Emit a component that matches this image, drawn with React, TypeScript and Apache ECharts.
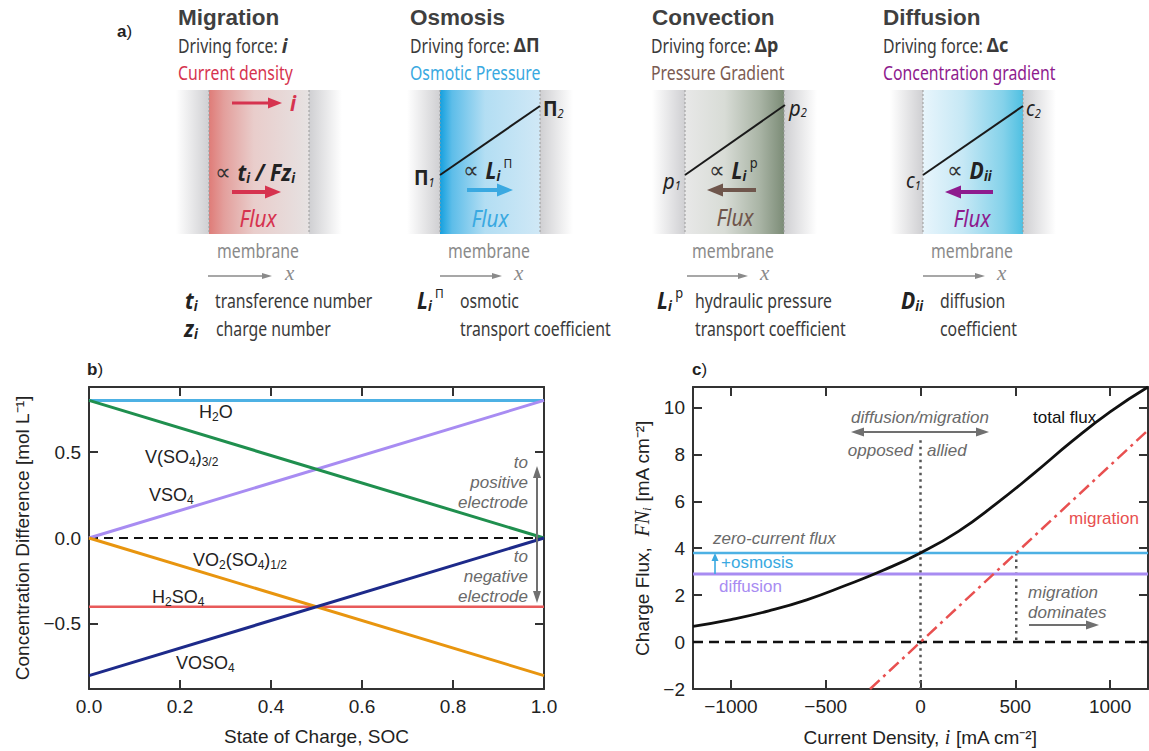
import React, { useEffect, useRef } from "react";
import * as echarts from "echarts";

// ---------- panel b: concentration difference vs state of charge ----------
const socRange = [0, 1];
const socTicks = [0, 0.2, 0.4, 0.6, 0.8, 1.0];
const concTicks = [-0.5, 0, 0.5];
const concRange = [-0.878, 0.878];
const h2oConc = [0.8, 0.8];
const vSo4_32Conc = [0.8, 0.0];
const vSo4Conc = [0.0, 0.8];
const vo2So4Conc = [0.0, -0.8];
const h2so4Conc = [-0.4, -0.4];
const voSo4Conc = [-0.8, 0.0];
const zeroConc = [0, 0];

// ---------- panel c: charge flux vs current density ----------
const currentRange = [-1200, 1200];
const currentTicks = [-1000, -500, 0, 500, 1000];
const fluxRange = [-2, 10.87];
const fluxTicks = [-2, 0, 2, 4, 6, 8, 10];
const currentSamples = [-1200, -1000, -800, -600, -400, -200, 0, 200, 400, 600, 800, 1000, 1200];
const totalFlux = [0.67, 0.96, 1.33, 1.8, 2.4, 3.05, 3.8, 4.72, 5.9, 7.2, 8.56, 9.81, 10.87];
const migrationCurrent = [-266, 1200];
const migrationFlux = [-2.0, 9.03];
const diffusionFlux = 2.9;
const zeroCurrentFlux = 3.8;
const crossoverCurrent = 505;
const alliedMarkerTop = 8.6;

const ARIAL = "'Liberation Sans', Arial, Helvetica, sans-serif";
const SANS = "'Noto Sans', 'Open Sans', 'DejaVu Sans', sans-serif";
const SERIF = "'Liberation Serif', 'DejaVu Serif', serif";
const SYMBOL = "'DejaVu Sans', sans-serif";
const AXIS = "#333333";
const INK = "#222222";
const NOTE = "#6a6a6a";

const C_H2O = "#4db1e4";
const C_V32 = "#1f8f4e";
const C_VSO4 = "#a88cf2";
const C_VO2 = "#e8950f";
const C_H2SO4 = "#e85a5a";
const C_VOSO4 = "#1d2a8a";
const C_MIG = "#e85050";

const RED_A = "#d6334f";
const BLUE_A = "#3aa9e1";
const BROWN_A = "#6f564c";
const PURPLE_A = "#8e1b8e";
const GREY_A = "#8a8a8a";

let ctx2d: CanvasRenderingContext2D | null = null;
function measure(text: string, size: number, bold: boolean, italic: boolean, family: string) {
  if (!ctx2d) ctx2d = document.createElement("canvas").getContext("2d");
  if (!ctx2d) return text.length * size * 0.55;
  ctx2d.font = `${italic ? "italic " : ""}${bold ? "bold " : ""}${size}px ${family}`;
  return ctx2d.measureText(text).width;
}

type Seg = { t: string; size?: number; b?: boolean; i?: boolean; f?: string; c?: string; dy?: number; gap?: number; sx?: number };
type Base = { size: number; f: string; c: string; sx: number; align?: "left" | "center" | "right" };

function run(x: number, y: number, segs: Seg[], d: Base) {
  const items = segs.map((s) => {
    const size = s.size ?? d.size;
    const f = s.f ?? d.f;
    const sx = s.sx ?? d.sx;
    const w = measure(s.t, size, !!s.b, !!s.i, f) * sx;
    return { s, size, f, sx, w };
  });
  const total = items.reduce((a, it) => a + it.w + (it.s.gap ?? 0), 0);
  let cx = d.align === "center" ? x - total / 2 : d.align === "right" ? x - total : x;
  const out: any[] = [];
  for (const it of items) {
    cx += it.s.gap ?? 0;
    out.push({
      type: "text",
      x: cx,
      y: y + (it.s.dy ?? 0),
      scaleX: it.sx,
      silent: true,
      z: 50,
      style: {
        text: it.s.t,
        fontSize: it.size,
        fontFamily: it.f,
        fontWeight: it.s.b ? "bold" : "normal",
        fontStyle: it.s.i ? "italic" : "normal",
        fill: it.s.c ?? d.c,
        align: "left",
        verticalAlign: "middle",
      },
    });
    cx += it.w;
  }
  return out;
}

function arrow(x1: number, y1: number, x2: number, y2: number, color: string, width: number, headL: number, headW: number) {
  const dx = x2 - x1;
  const dy = y2 - y1;
  const len = Math.hypot(dx, dy);
  const ux = dx / len;
  const uy = dy / len;
  const bx = x2 - ux * headL;
  const by = y2 - uy * headL;
  const px = -uy * (headW / 2);
  const py = ux * (headW / 2);
  return [
    { type: "line", silent: true, z: 49, shape: { x1, y1, x2: bx + ux * 1, y2: by + uy * 1 }, style: { stroke: color, lineWidth: width } },
    { type: "polygon", silent: true, z: 49, shape: { points: [[x2, y2], [bx + px, by + py], [bx - px, by - py]] }, style: { fill: color } },
  ];
}

function doubleArrow(x1: number, y1: number, x2: number, y2: number, color: string, width: number, headL: number, headW: number) {
  const mx = (x1 + x2) / 2;
  const my = (y1 + y2) / 2;
  return [...arrow(mx, my, x2, y2, color, width, headL, headW), ...arrow(mx, my, x1, y1, color, width, headL, headW)];
}

const grad = (stops: [number, string][]) =>
  new echarts.graphic.LinearGradient(0, 0, 1, 0, stops.map(([offset, color]) => ({ offset, color })));

function membraneBox(mL: number, mR: number, stops: [number, string][]) {
  const top = 90;
  const h = 144;
  const side = 33;
  const grey = "#cfcfd2";
  return [
    { type: "rect", silent: true, z: 10, shape: { x: mL - side, y: top, width: side, height: h }, style: { fill: grad([[0, "#ffffff"], [1, grey]]) } },
    { type: "rect", silent: true, z: 10, shape: { x: mR, y: top, width: side, height: h }, style: { fill: grad([[0, grey], [1, "#ffffff"]]) } },
    { type: "rect", silent: true, z: 11, shape: { x: mL, y: top, width: mR - mL, height: h }, style: { fill: grad(stops) } },
    { type: "line", silent: true, z: 12, shape: { x1: mL, y1: top, x2: mL, y2: top + h }, style: { stroke: "#9a9a9a", lineWidth: 1, lineDash: [2, 2] } },
    { type: "line", silent: true, z: 12, shape: { x1: mR, y1: top, x2: mR, y2: top + h }, style: { stroke: "#9a9a9a", lineWidth: 1, lineDash: [2, 2] } },
  ];
}

function gradientLine(x1: number, y1: number, x2: number, y2: number) {
  return { type: "line", silent: true, z: 30, shape: { x1, y1, x2, y2 }, style: { stroke: "#1a1a1a", lineWidth: 2 } };
}

function buildGraphics() {
  const body: Base = { size: 20, f: SANS, c: "#3a3a3a", sx: 0.79 };
  const math: Base = { size: 23, f: SANS, c: INK, sx: 0.92 };
  const head: Base = { size: 22.5, f: ARIAL, c: "#3f3f3f", sx: 1 };
  const lab: Base = { size: 17, f: ARIAL, c: INK, sx: 1 };
  const chem: Base = { size: 18, f: ARIAL, c: INK, sx: 1 };
  const note: Base = { size: 17, f: ARIAL, c: NOTE, sx: 1 };
  const flux: Base = { size: 23, f: SANS, c: INK, sx: 0.9, align: "center" };
  const prop: Seg = { t: "∝ ", size: 23, f: SYMBOL, sx: 0.95, c: "#333333" };
  const sub = (t: string, extra: Partial<Seg> = {}): Seg => ({ t, size: 14, dy: 6, ...extra });
  const sup = (t: string, extra: Partial<Seg> = {}): Seg => ({ t, size: 14, dy: -7, ...extra });
  const el: any[] = [];

  // panel letters
  el.push(...run(117, 31, [{ t: "a", b: true }, { t: ")" }], lab));
  el.push(...run(87, 369, [{ t: "b", b: true }, { t: ")" }], lab));
  el.push(...run(692, 369, [{ t: "c", b: true }, { t: ")" }], lab));

  // --- Migration ---
  el.push(...run(178, 17, [{ t: "Migration", b: true }], head));
  el.push(...run(178, 45, [{ t: "Driving force: " }, { t: "i", b: true, i: true, sx: 0.95 }], body));
  el.push(...run(178, 72, [{ t: "Current density", c: RED_A }], body));
  el.push(...membraneBox(209, 309, [[0, "#df7c78"], [0.15, "#e39f9c"], [0.45, "#e9cdcb"], [1, "#e6e2e2"]]));
  el.push(...arrow(232, 103, 282, 103, RED_A, 3, 14, 11));
  el.push(...run(290, 102, [{ t: "i", b: true, i: true, c: RED_A, size: 22 }], math));
  el.push(...run(215, 172, [prop, { t: "t", b: true, i: true }, sub("i", { b: true, i: true }), { t: " / ", b: true, i: true }, { t: "Fz", b: true, i: true }, sub("i", { b: true, i: true })], math));
  el.push(...arrow(232, 192, 281, 192, RED_A, 4, 16, 13));
  el.push(...run(258, 218, [{ t: "Flux", i: true, c: RED_A }], flux));
  el.push(...run(258, 250, [{ t: "membrane", c: GREY_A }], { ...body, align: "center" }));
  el.push(...arrow(208, 276, 272, 276, GREY_A, 1.3, 10, 6));
  el.push(...run(285, 273, [{ t: "x", i: true, f: SERIF, c: GREY_A, size: 21 }], { ...body, sx: 1 }));
  el.push(...run(185, 300, [{ t: "t", b: true, i: true }, sub("i", { b: true, i: true })], math));
  el.push(...run(215, 300, [{ t: "transference number" }], body));
  el.push(...run(184, 328, [{ t: "z", b: true, i: true }, sub("i", { b: true, i: true })], math));
  el.push(...run(216, 328, [{ t: "charge number" }], body));

  // --- Osmosis ---
  el.push(...run(410, 17, [{ t: "Osmosis", b: true }], head));
  el.push(...run(410, 45, [{ t: "Driving force: " }, { t: "ΔΠ", b: true, sx: 0.9 }], body));
  el.push(...run(410, 72, [{ t: "Osmotic Pressure", c: BLUE_A }], body));
  el.push(...membraneBox(440, 540, [[0, "#14a0df"], [0.12, "#5dbde9"], [0.45, "#b3def3"], [1, "#d0e8f6"]]));
  el.push(gradientLine(440, 175, 540, 106));
  el.push(...run(414, 177, [{ t: "Π", b: true, size: 21 }, sub("1", { i: true, size: 12, dy: 5 })], math));
  el.push(...run(543, 108, [{ t: "Π", b: true, size: 21 }, sub("2", { i: true, size: 12, dy: 5 })], math));
  el.push(...run(463, 170, [prop, { t: "L", b: true, i: true }, sub("i", { b: true, i: true }), sup(" Π", { size: 13 })], math));
  el.push(...arrow(467, 190, 513, 190, BLUE_A, 4, 16, 13));
  el.push(...run(490, 218, [{ t: "Flux", i: true, c: BLUE_A }], flux));
  el.push(...run(489, 250, [{ t: "membrane", c: GREY_A }], { ...body, align: "center" }));
  el.push(...arrow(440, 276, 502, 276, GREY_A, 1.3, 10, 6));
  el.push(...run(514, 273, [{ t: "x", i: true, f: SERIF, c: GREY_A, size: 21 }], { ...body, sx: 1 }));
  el.push(...run(417, 300, [{ t: "L", b: true, i: true }, sub("i", { b: true, i: true }), sup(" Π", { size: 13 })], math));
  el.push(...run(460, 300, [{ t: "osmotic" }], body));
  el.push(...run(460, 328, [{ t: "transport coefficient" }], body));

  // --- Convection ---
  el.push(...run(652, 17, [{ t: "Convection", b: true }], head));
  el.push(...run(651, 45, [{ t: "Driving force: " }, { t: "Δp", b: true, sx: 0.9 }], body));
  el.push(...run(651, 72, [{ t: "Pressure Gradient", c: "#7b5b52" }], body));
  el.push(...membraneBox(685, 784, [[0, "#e8e8e8"], [0.4, "#d8dcd6"], [0.75, "#aab5a6"], [1, "#7c8c77"]]));
  el.push(gradientLine(685, 175, 785, 105));
  el.push(...run(663, 180, [{ t: "p", i: true, size: 22 }, sub("1", { i: true, size: 12, dy: 5 })], math));
  el.push(...run(789, 107, [{ t: "p", i: true, size: 22 }, sub("2", { i: true, size: 12, dy: 5 })], math));
  el.push(...run(709, 170, [prop, { t: "L", b: true, i: true }, sub("i", { b: true, i: true }), sup(" p", { size: 14 })], math));
  el.push(...arrow(756, 190, 707, 190, BROWN_A, 4, 16, 13));
  el.push(...run(735, 217, [{ t: "Flux", i: true, c: BROWN_A }], flux));
  el.push(...run(733, 250, [{ t: "membrane", c: GREY_A }], { ...body, align: "center" }));
  el.push(...arrow(687, 276, 748, 276, GREY_A, 1.3, 10, 6));
  el.push(...run(760, 273, [{ t: "x", i: true, f: SERIF, c: GREY_A, size: 21 }], { ...body, sx: 1 }));
  el.push(...run(657, 300, [{ t: "L", b: true, i: true }, sub("i", { b: true, i: true }), sup(" p", { size: 14 })], math));
  el.push(...run(695, 300, [{ t: "hydraulic pressure" }], body));
  el.push(...run(695, 328, [{ t: "transport coefficient" }], body));

  // --- Diffusion ---
  el.push(...run(883, 17, [{ t: "Diffusion", b: true }], head));
  el.push(...run(883, 45, [{ t: "Driving force: " }, { t: "Δc", b: true, sx: 0.9 }], body));
  el.push(...run(883, 72, [{ t: "Concentration gradient", c: PURPLE_A }], body));
  el.push(...membraneBox(923, 1023, [[0, "#e8f5fc"], [0.4, "#c6e8f5"], [0.8, "#85d2ea"], [1, "#4fc0e2"]]));
  el.push(gradientLine(923, 175, 1023, 106));
  el.push(...run(906, 180, [{ t: "c", i: true, size: 21 }, sub("1", { i: true, size: 12, dy: 5 })], math));
  el.push(...run(1026, 108, [{ t: "c", i: true, size: 21 }, sub("2", { i: true, size: 12, dy: 5 })], math));
  el.push(...run(947, 170, [prop, { t: "D", b: true, i: true }, sub("ii", { b: true, i: true })], math));
  el.push(...arrow(993, 192, 945, 192, PURPLE_A, 4, 16, 13));
  el.push(...run(972, 218, [{ t: "Flux", i: true, c: PURPLE_A }], flux));
  el.push(...run(972, 250, [{ t: "membrane", c: GREY_A }], { ...body, align: "center" }));
  el.push(...arrow(923, 276, 985, 276, GREY_A, 1.3, 10, 6));
  el.push(...run(997, 273, [{ t: "x", i: true, f: SERIF, c: GREY_A, size: 21 }], { ...body, sx: 1 }));
  el.push(...run(901, 300, [{ t: "D", b: true, i: true }, sub("ii", { b: true, i: true })], math));
  el.push(...run(940, 300, [{ t: "diffusion" }], body));
  el.push(...run(940, 328, [{ t: "coefficient" }], body));

  // --- panel b species labels ---
  const cs = (t: string): Seg => ({ t, size: 12, dy: 5 });
  el.push(...run(199, 412, [{ t: "H" }, cs("2"), { t: "O" }], chem));
  el.push(...run(145, 457, [{ t: "V(SO" }, cs("4"), { t: ")" }, cs("3/2")], chem));
  el.push(...run(149, 495, [{ t: "VSO" }, cs("4")], chem));
  el.push(...run(193, 560, [{ t: "VO" }, cs("2"), { t: "(SO" }, cs("4"), { t: ")" }, cs("1/2")], chem));
  el.push(...run(152, 597, [{ t: "H" }, cs("2"), { t: "SO" }, cs("4")], chem));
  el.push(...run(176, 663, [{ t: "VOSO" }, cs("4")], chem));
  const nb: Base = { ...note, align: "right" };
  el.push(...run(528, 462, [{ t: "to", i: true }], nb));
  el.push(...run(528, 482, [{ t: "positive", i: true }], nb));
  el.push(...run(528, 502, [{ t: "electrode", i: true }], nb));
  el.push(...run(528, 556, [{ t: "to", i: true }], nb));
  el.push(...run(528, 576, [{ t: "negative", i: true }], nb));
  el.push(...run(528, 596, [{ t: "electrode", i: true }], nb));
  el.push(...doubleArrow(537, 466, 537, 603, "#707070", 2, 12, 8));

  // --- panel c notes ---
  el.push(...run(920, 417, [{ t: "diffusion/migration", i: true }], { ...note, align: "center" }));
  el.push(...doubleArrow(851, 432, 989, 432, "#707070", 2, 13, 9));
  el.push(...run(913, 450, [{ t: "opposed", i: true }], { ...note, align: "right" }));
  el.push(...run(927, 450, [{ t: "allied", i: true }], note));
  el.push(...run(1033, 417, [{ t: "total flux" }], { ...note, c: "#111111" }));
  el.push(...run(1069, 518, [{ t: "migration" }], { ...note, c: C_MIG }));
  el.push(...run(1028, 592, [{ t: "migration", i: true }], note));
  el.push(...run(1028, 612, [{ t: "dominates", i: true }], note));
  el.push(...arrow(1029, 625, 1099, 625, "#707070", 2, 13, 9));
  el.push(...run(713, 538, [{ t: "zero-current flux", i: true }], note));
  el.push(...arrow(715, 574, 715, 553, BLUE_A, 1.6, 8, 7));
  el.push(...run(721, 562, [{ t: "+osmosis" }], { ...note, c: BLUE_A }));
  el.push(...run(719, 586, [{ t: "diffusion" }], { ...note, c: C_VSO4 }));
  return el;
}

function axis(gridIndex: number, range: number[], ticks: number[], pos: string, labels: boolean, extra: any = {}) {
  return {
    type: "value",
    gridIndex,
    position: pos,
    min: range[0],
    max: range[1],
    axisLine: { show: true, onZero: false, lineStyle: { color: AXIS, width: 2 } },
    axisTick: { show: true, inside: true, length: 9, customValues: ticks, lineStyle: { color: AXIS, width: 2 } },
    axisLabel: {
      show: labels,
      customValues: ticks,
      color: INK,
      fontSize: 19,
      fontFamily: ARIAL,
      margin: 8,
      formatter: (v: number) => (extra.decimals != null ? v.toFixed(extra.decimals) : String(v)).replace("-", "−"),
    },
    splitLine: { show: false },
    ...extra.more,
  };
}

function pairs(xs: number[], ys: number[]) {
  return xs.map((x, k) => [x, ys[k]]);
}

function flat(xs: number[], v: number) {
  return xs.map((x) => [x, v]);
}

function line(name: string, data: number[][], color: string, width: number, xi: number, yi: number, type: any = "solid", extra: any = {}) {
  return {
    name,
    type: "line",
    xAxisIndex: xi,
    yAxisIndex: yi,
    data,
    showSymbol: false,
    symbol: "none",
    silent: true,
    lineStyle: { color, width, type, cap: "butt" },
    ...extra,
  };
}

export default function App() {
  const ref = useRef<HTMLDivElement>(null);
  useEffect(() => {
    if (!ref.current) return;
    const chart = echarts.init(ref.current, undefined, { renderer: "svg" });
    const nameStyle = { color: INK, fontSize: 19, fontFamily: ARIAL };
    chart.setOption({
      animation: false,
      backgroundColor: "#ffffff",
      grid: [
        { left: 89, top: 387, width: 455, height: 302 },
        { left: 693, top: 387, width: 455, height: 302 },
      ],
      xAxis: [
        axis(0, socRange, socTicks, "bottom", true, {
          decimals: 1,
          more: { name: "State of Charge, SOC", nameLocation: "middle", nameGap: 38, nameTextStyle: nameStyle },
        }),
        axis(0, socRange, socTicks, "top", false),
        axis(1, currentRange, currentTicks, "bottom", true, {
          more: {
            name: "Current Density, {it|i} [mA cm⁻²]",
            nameLocation: "middle",
            nameGap: 38,
            nameTextStyle: { ...nameStyle, rich: { it: { fontStyle: "italic", fontFamily: SERIF, fontSize: 20, color: INK } } },
          },
        }),
        axis(1, currentRange, currentTicks, "top", false),
      ],
      yAxis: [
        axis(0, concRange, concTicks, "left", true, {
          decimals: 1,
          more: { name: "Concentration Difference [mol L⁻¹]", nameLocation: "middle", nameGap: 57, nameTextStyle: nameStyle },
        }),
        axis(0, concRange, concTicks, "right", false),
        axis(1, fluxRange, fluxTicks, "left", true, {
          more: {
            name: "Charge Flux,  {it|FN}{sub|i} [mA cm⁻²]",
            nameLocation: "middle",
            nameGap: 40,
            nameTextStyle: {
              ...nameStyle,
              rich: {
                it: { fontStyle: "italic", fontFamily: SERIF, fontSize: 20, color: INK },
                sub: { fontStyle: "italic", fontFamily: SERIF, fontSize: 13, color: INK, padding: [9, 0, 0, 0] },
              },
            },
          },
        }),
        axis(1, fluxRange, fluxTicks, "right", false),
      ],
      graphic: { elements: buildGraphics() },
      series: [
        line("zero", pairs(socRange, zeroConc), "#111111", 2, 0, 0, [9, 6]),
        line("H2SO4", pairs(socRange, h2so4Conc), C_H2SO4, 2.5, 0, 0),
        line("H2O", pairs(socRange, h2oConc), C_H2O, 3, 0, 0),
        line("VSO4", pairs(socRange, vSo4Conc), C_VSO4, 3, 0, 0),
        line("V(SO4)3/2", pairs(socRange, vSo4_32Conc), C_V32, 3, 0, 0),
        line("VO2(SO4)1/2", pairs(socRange, vo2So4Conc), C_VO2, 3, 0, 0),
        line("VOSO4", pairs(socRange, voSo4Conc), C_VOSO4, 3, 0, 0),

        line("allied boundary", [[0, alliedMarkerTop], [0, fluxRange[0]]], "#555555", 2.5, 2, 2, [2.5, 4]),
        line("crossover", [[crossoverCurrent, zeroCurrentFlux], [crossoverCurrent, 0]], "#555555", 2.5, 2, 2, [2.5, 4]),
        line("zero flux", flat(currentRange, 0), "#111111", 2.5, 2, 2, [10, 6]),
        line("diffusion", flat(currentRange, diffusionFlux), C_VSO4, 3, 2, 2),
        line("zero-current flux", flat(currentRange, zeroCurrentFlux), C_H2O, 2.5, 2, 2),
        line("migration", pairs(migrationCurrent, migrationFlux), C_MIG, 2.5, 2, 2, [13, 5, 3, 5]),
        line("total flux", pairs(currentSamples, totalFlux), "#111111", 2.8, 2, 2, "solid", { smooth: 0.5 }),
      ],
    });
    return () => chart.dispose();
  }, []);
  return <div ref={ref} style={{ position: "fixed", left: 0, top: 0, width: 1149, height: 751, background: "#fff" }} />;
}
